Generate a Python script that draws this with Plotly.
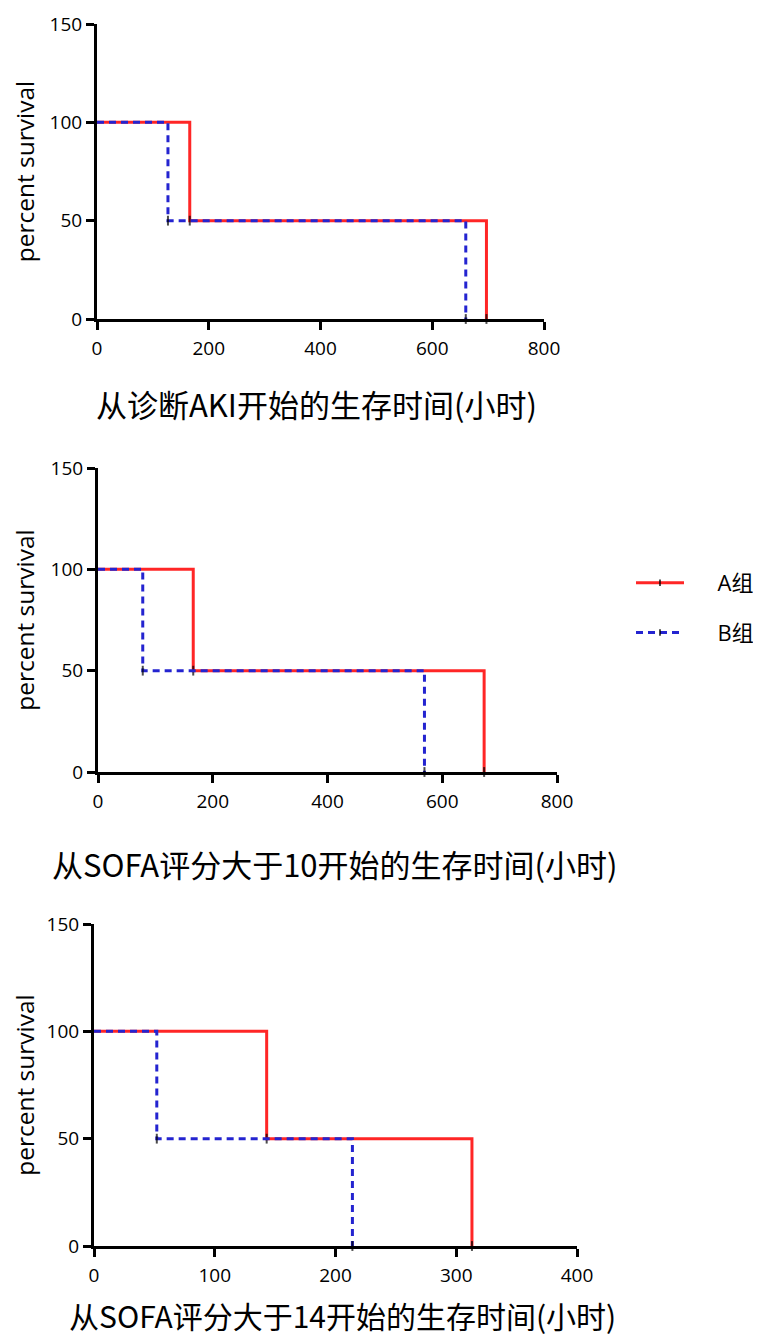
import plotly.graph_objects as go

# ---- data ----
group_names = ["A组", "B组"]
panel_titles = [
    "从诊断AKI开始的生存时间(小时)",
    "从SOFA评分大于10开始的生存时间(小时)",
    "从SOFA评分大于14开始的生存时间(小时)",
]
# survival step data (time in hours, percent survival)
p1_a_time = [0, 166, 697]
p1_a_surv = [100, 50, 0]
p1_b_time = [0, 127, 660]
p1_b_surv = [100, 50, 0]

p2_a_time = [0, 166, 673]
p2_a_surv = [100, 50, 0]
p2_b_time = [0, 78, 569]
p2_b_surv = [100, 50, 0]

p3_a_time = [0, 143, 313]
p3_a_surv = [100, 50, 0]
p3_b_time = [0, 52, 214]
p3_b_surv = [100, 50, 0]

x_ranges = [[0, 800], [0, 800], [0, 400]]
x_ticks = [[0, 200, 400, 600, 800], [0, 200, 400, 600, 800], [0, 100, 200, 300, 400]]
y_ticks = [0, 50, 100, 150]

panels = [
    (p1_a_time, p1_a_surv, p1_b_time, p1_b_surv),
    (p2_a_time, p2_a_surv, p2_b_time, p2_b_surv),
    (p3_a_time, p3_a_surv, p3_b_time, p3_b_surv),
]

OFF = 8  # page body margin
W, H = 761 - OFF, 1340 - OFF
# pixel boxes of the plot areas in page pixels: (left, right, top, bottom)
boxes = [(97, 544, 24, 319), (98, 557, 468, 772), (94, 577, 924, 1246)]
title_pos = [(316, 403), (335, 863), (342, 1315)]
title_sizes = [31, 31, 30]


def px(v):
    return (v - OFF) / W


def py(v):
    return 1 - (v - OFF) / H


RED = "#ff2626"
BLUE = "#2424d0"
SP = "\u00a0" * 5

fig = go.Figure()
layout = dict(
    width=W, height=H,
    margin=dict(l=0, r=0, t=0, b=0, pad=0, autoexpand=False),
    paper_bgcolor="white", plot_bgcolor="white",
    font=dict(family="Open Sans, Noto Sans CJK SC", color="black"),
    showlegend=True,
    legend=dict(x=px(631), y=py(562), xanchor="left", yanchor="top",
                font=dict(size=22, family="Open Sans, Noto Sans CJK SC"),
                tracegroupgap=18, itemwidth=48, bgcolor="rgba(0,0,0,0)"),
)
annotations = []
for i, (at, asv, bt, bsv) in enumerate(panels):
    xa = "x" if i == 0 else f"x{i+1}"
    ya = "y" if i == 0 else f"y{i+1}"
    fig.add_trace(go.Scatter(
        x=at, y=asv, mode="lines+markers", line=dict(color=RED, width=3, shape="hv"),
        marker=dict(symbol="line-ns", size=[0, 7, 7], color="black",
                    line=dict(color="black", width=2)),
        name=SP + group_names[0], legendgroup="A", showlegend=(i == 0),
        xaxis=xa, yaxis=ya, cliponaxis=False))
    fig.add_trace(go.Scatter(
        x=bt, y=bsv, mode="lines+markers",
        line=dict(color=BLUE, width=3, shape="hv", dash="7px,5px"),
        marker=dict(symbol="line-ns", size=[0, 7, 7], color="black",
                    line=dict(color="black", width=2)),
        name=SP + group_names[1], legendgroup="B", showlegend=(i == 0),
        xaxis=xa, yaxis=ya, cliponaxis=False))
    l, r, t, b = boxes[i]
    axis_common = dict(showline=True, linewidth=3, linecolor="black", ticks="outside",
                       ticklen=8, tickwidth=3, tickcolor="black", showgrid=False,
                       zeroline=False, automargin=False,
                       tickfont=dict(size=19, color="black"))
    layout["xaxis" if i == 0 else f"xaxis{i+1}"] = dict(
        domain=[px(l), px(r)], range=x_ranges[i], tickvals=x_ticks[i],
        anchor=ya, ticklabelstandoff=2, **axis_common)
    layout["yaxis" if i == 0 else f"yaxis{i+1}"] = dict(
        domain=[py(b), py(t)], range=[0, 150], tickvals=y_ticks,
        anchor=xa, title=dict(text="percent survival", font=dict(size=24.5), standoff=10),
        **axis_common)
    tx, ty = title_pos[i]
    annotations.append(dict(text=panel_titles[i], x=px(tx), y=py(ty), xref="paper",
                            yref="paper", showarrow=False, xanchor="center", yanchor="middle",
                            font=dict(size=title_sizes[i], family="Noto Sans CJK SC",
                                      color="black")))
layout["annotations"] = annotations
fig.update_layout(**layout)
fig.write_html("out.html")
